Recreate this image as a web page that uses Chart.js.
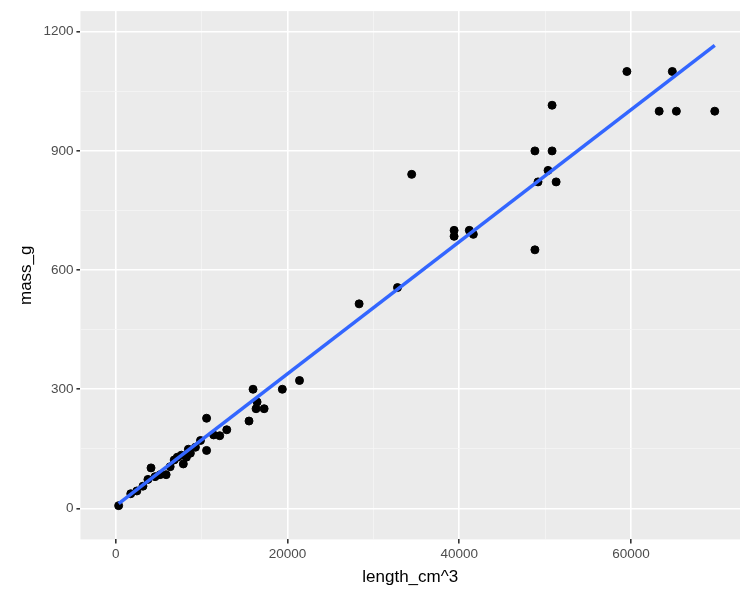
<!DOCTYPE html><html><head><script src="https://cdn.jsdelivr.net/npm/chart.js@4"></script>
<style>body{margin:0;background:#fff}#w{width:750px;height:600px}</style></head><body><div id="w"><canvas id="c"></canvas></div>
<script>
const lengthCm3=[350,1760,2470,3180,3760,4120,4590,5180,5880,6350,6820,7180,7650,7880,8240,8470,8700,9290,9880,10590,10590,11410,12120,12940,15530,16000,16350,16470,17290,19410,21410,28350,32820,34470,39410,39410,41180,41650,48820,48820,49180,50350,50820,50820,51290,59530,63290,64820,65290,69760];
const massG=[7,37,44,56,73,102,80,85,85,105,122,129,134,112,129,149,139,154,171,227,146,185,183,198,220,300,251,268,251,300,322,515,556,841,700,685,700,690,900,651,822,851,1015,900,822,1100,1000,1100,1000,1000];
const xTicks=[0,20000,40000,60000], yTicks=[0,300,600,900,1200];
const pts=lengthCm3.map((x,i)=>({x,y:massG[i]}));
const n=pts.length, mx=lengthCm3.reduce((a,b)=>a+b)/n, my=massG.reduce((a,b)=>a+b)/n;
let sxy=0,sxx=0;pts.forEach(p=>{sxy+=(p.x-mx)*(p.y-my);sxx+=(p.x-mx)**2});
const b=sxy/sxx,a=my-b*mx, x0=Math.min(...lengthCm3), x1=Math.max(...lengthCm3);
const bg={id:'bg',beforeDraw(c){const {ctx,chartArea:r}=c;ctx.save();ctx.fillStyle='#ebebeb';ctx.fillRect(r.left,r.top,r.right-r.left,r.bottom-r.top);ctx.restore();}};
function ticksWithMinor(major){const t=[];for(let i=0;i<major.length;i++){t.push({value:major[i],major:true});if(i<major.length-1)t.push({value:(major[i]+major[i+1])/2});}return t;}
const gridOpt={color:c=>c.tick&&c.tick.major?'#ffffff':'#f5f5f5',lineWidth:c=>c.tick&&c.tick.major?1.6:0.8,tickLength:4,tickColor:c=>c.tick&&c.tick.major?'#333':'rgba(0,0,0,0)',drawTicks:true};
new Chart(document.getElementById('c'),{type:'scatter',data:{datasets:[
{data:pts,backgroundColor:'#000',borderColor:'#000',pointRadius:4,pointHoverRadius:4,order:2},
{type:'line',data:[{x:x0,y:a+b*x0},{x:x1,y:a+b*x1}],borderColor:'#3366FF',borderWidth:3.5,pointRadius:0,order:1}]},
options:{animation:false,responsive:true,maintainAspectRatio:false,layout:{padding:{top:0,right:10,bottom:8,left:12}},
plugins:{legend:{display:false},tooltip:{enabled:false}},
scales:{
x:{type:'linear',min:-4100,max:72700,afterBuildTicks:s=>{s.ticks=ticksWithMinor(xTicks)},grid:gridOpt,border:{display:false},
ticks:{color:'#4d4d4d',font:{size:13.5,family:'Liberation Sans'},autoSkip:false,maxRotation:0,callback:(v,i,t)=>t[i].major?String(v):''},
title:{display:true,text:'length_cm^3',color:'#000',font:{size:17,family:'Liberation Sans'},padding:{top:2}}},
y:{min:-78,max:1252,afterBuildTicks:s=>{s.ticks=ticksWithMinor(yTicks)},grid:gridOpt,border:{display:false},
ticks:{color:'#4d4d4d',font:{size:13.5,family:'Liberation Sans'},autoSkip:false,callback:(v,i,t)=>t[i].major?String(v):''},
title:{display:true,text:'mass_g',color:'#000',font:{size:17,family:'Liberation Sans'}}}}},plugins:[bg]});
</script></body></html>
